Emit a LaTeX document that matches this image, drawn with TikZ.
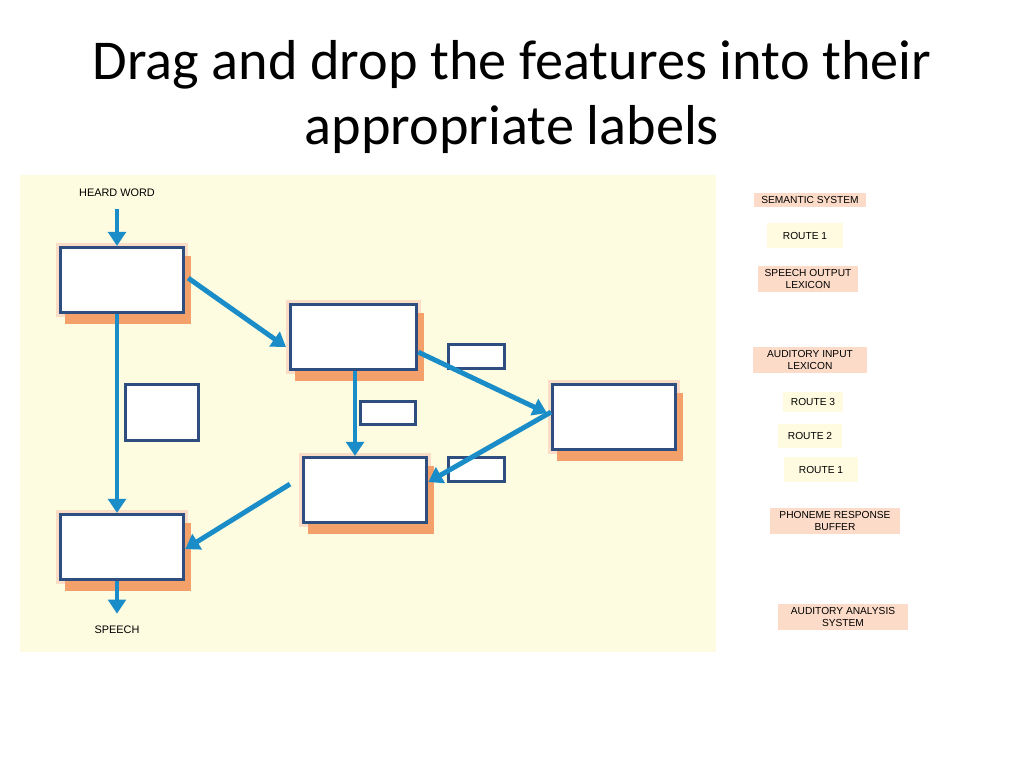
\documentclass[tikz,border=0pt]{standalone}
\usepackage{fontspec}
\setmainfont{Carlito}
\newfontfamily\labfont{Liberation Sans}
\usetikzlibrary{arrows.meta,
                positioning,
                backgrounds}
\definecolor{panel}{HTML}{FEFCE0}
\definecolor{rim}{HTML}{FBDCC6}
\definecolor{orangeshade}{HTML}{F4A06A}
\definecolor{link}{HTML}{1A8CC8}
\definecolor{edge}{HTML}{2E4E80}
\definecolor{tag}{HTML}{FCDCC8}
\definecolor{tip}{HTML}{FEFBE0}
\tikzset{stage/.style=
   {rectangle,
    draw=edge,
    fill=white,
    line width=0.9pt,
    anchor=north west,
    minimum width=1.23cm,
    minimum height=0.65cm}}
\tikzset{slot/.style =
   {rectangle,
    draw=edge,
    fill=white,
    line width=0.8pt,
    anchor=north west}}
\tikzset{tagbox/.style =
   {rectangle,
    fill=tag,
    font=\labfont\fontsize{2.9}{3.4}\selectfont,
    align=center,
    inner sep=1pt}}
\tikzset{routebox/.style =
   {rectangle,
    fill=tip,
    font=\labfont\fontsize{2.9}{3.4}\selectfont,
    inner sep=1pt}}
\tikzset{arrow/.style = {draw=link, line width=1.4pt, -{Triangle[length=4pt,width=5pt]}}}

\begin{document}
\begin{tikzpicture}[x=0.01cm,y=-0.01cm]
    \useasboundingbox (0,0) rectangle (1024,768);

    \node (title) at (512,97) [align=center,font=\fontsize{16}{18.6}\selectfont]
    {Drag and drop the features into their\\appropriate labels};

    % diagram boxes
    \node [stage] (aas) at (59,246) {};
    \node [stage, minimum width=1.26cm] (ail) at (289,303) {};
    \node [stage] (sem) at (551,383) {};
    \node [stage] (sol) at (302,456) {};
    \node [stage] (prb) at (59,513) {};

    % empty label slots
    \node [slot, minimum width=0.73cm, minimum height=0.56cm] (slotL) at (124,383) {};
    \node [slot, minimum width=0.56cm, minimum height=0.24cm] (slotA) at (447,343) {};
    \node [slot, minimum width=0.55cm, minimum height=0.23cm] (slotB) at (359,400) {};
    \node [slot, minimum width=0.56cm, minimum height=0.24cm] (slotC) at (447,456) {};

    \begin{scope}[on background layer]
      \fill[panel] (20,175) rectangle (716,652);
      \foreach \b in {aas,ail,sem,sol,prb}
      {
        \fill[rim] ([shift={(-3,-3)}]\b.north west) rectangle ([shift={(3,3)}]\b.south east);
        \fill[orangeshade] ([shift={(6,10)}]\b.north west) rectangle ([shift={(6,10)}]\b.south east);
      }
    \end{scope}

    \node (heard) at (117,193) [font=\labfont\fontsize{3.1}{4}\selectfont] {HEARD WORD};
    \node (speech) at (117,630) [font=\labfont\fontsize{3.1}{4}\selectfont] {SPEECH};

    \draw[arrow] (heard) -- (aas.north -| heard);
    \draw[arrow] (aas.south -| heard) -- (prb.north -| heard);
    \draw[arrow] (prb.south -| heard) -- (speech.north);
    \draw[arrow] (aas.east) ++(3,-2) -- ([shift={(-3,10)}]ail.west);
    \draw[arrow] ([yshift=-0.15cm]ail.east) -- ([shift={(-4,-4)}]sem.west);
    \draw[arrow] (ail.south -| 355,0) -- (sol.north -| 355,0);
    \draw[arrow] ([yshift=0.05cm]sem.west) -- ([yshift=0.08cm]sol.east);
    \draw[arrow] ([shift={(-12,-6)}]sol.west) -- ([yshift=-0.02cm]prb.east);

    % answer labels
    \node [tagbox, minimum width=1.12cm] (tSem) at (810,200) {SEMANTIC SYSTEM};
    \node [routebox, minimum width=0.75cm, minimum height=0.25cm] (tR1a) at (805,236) {ROUTE 1\hspace{0.3cm}};
    \node [tagbox, minimum width=0.99cm] (tSol) at (808,279) {SPEECH OUTPUT\\LEXICON};
    \node [tagbox, minimum width=1.13cm] (tAil) at (810,360) {AUDITORY INPUT\\LEXICON};
    \node [routebox, minimum width=0.6cm, minimum height=0.2cm] (tR3) at (813,402) {ROUTE 3\hspace{0.1cm}};
    \node [routebox, minimum width=0.64cm, minimum height=0.24cm] (tR2) at (810,436) {ROUTE 2\hspace{0.2cm}};
    \node [routebox, minimum width=0.73cm, minimum height=0.25cm] (tR1b) at (821,470) {ROUTE 1\hspace{0.2cm}};
    \node [tagbox, minimum width=1.29cm] (tPrb) at (835,521) {PHONEME RESPONSE\\BUFFER};
    \node [tagbox, minimum width=1.29cm] (tAas) at (843,617) {AUDITORY ANALYSIS\\SYSTEM};
\end{tikzpicture}
\end{document}
